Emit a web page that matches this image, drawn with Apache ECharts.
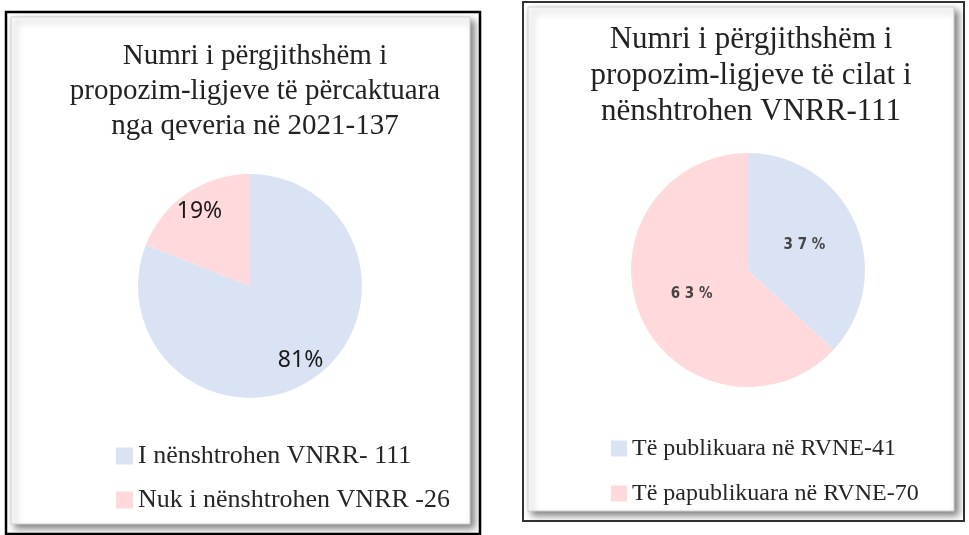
<!DOCTYPE html>
<html>
<head>
<meta charset="utf-8">
<script src="https://cdn.jsdelivr.net/npm/echarts@6/dist/echarts.min.js"></script>
<style>
html,body{margin:0;padding:0;background:#fff;}
#c{width:969px;height:535px;}
</style>
</head>
<body>
<div id="c"></div>
<script>
// ---- data ----
const leftTitle = 'Numri i përgjithshëm i\npropozim-ligjeve të përcaktuara\nnga qeveria në 2021-137';
const leftCategories = ['I nënshtrohen VNRR- 111', 'Nuk i nënshtrohen VNRR -26'];
const leftValues = [111, 26];

const rightTitle = 'Numri i përgjithshëm i\npropozim-ligjeve të cilat i\nnënshtrohen VNRR-111';
const rightCategories = ['Të publikuara në RVNE-41', 'Të papublikuara në RVNE-70'];
const rightValues = [41, 70];

const sliceColors = ['#DAE3F3', '#FFD9DC'];

// ---- chart ----
const chart = echarts.init(document.getElementById('c'), null, {renderer: 'canvas'});
const serif = '"Liberation Serif", "Times New Roman", serif';

function panel(x, y, w, h, outerColor, outerWidth) {
  return [
    {type: 'rect', z: -10, shape: {x: x, y: y, width: w, height: h},
     style: {fill: '#fff', stroke: outerColor, lineWidth: outerWidth}},
    {type: 'rect', z: -9, shape: {x: x + 5, y: y + 5, width: w - 15, height: h - 15},
     style: {fill: '#fff', stroke: '#d0d0d0', lineWidth: 1,
             shadowBlur: 7, shadowOffsetX: 4, shadowOffsetY: 4, shadowColor: 'rgba(0,0,0,0.5)'}}
  ];
}

const leftData = leftCategories.map((n, i) => ({name: n, value: leftValues[i], itemStyle: {color: sliceColors[i]}}));
const leftGhost = leftCategories.map((n, i) => ({name: '_' + n, value: leftValues[i]}));
const rightData = rightCategories.map((n, i) => ({name: n, value: rightValues[i], itemStyle: {color: sliceColors[i]}}));

chart.setOption({
  animation: false,
  backgroundColor: '#fff',
  graphic: [].concat(panel(6, 12, 474, 522, '#000', 2.5), panel(523, 2, 441, 519, '#333', 2)),
  title: [
    {text: leftTitle, left: 250, top: 34, textAlign: 'center',
     textStyle: {fontFamily: serif, fontSize: 29, fontWeight: 'normal', color: '#222', lineHeight: 35}},
    {text: rightTitle, left: 746, top: 17, textAlign: 'center',
     textStyle: {fontFamily: serif, fontSize: 31, fontWeight: 'normal', color: '#222', lineHeight: 36}}
  ],
  legend: [
    {data: leftCategories, orient: 'vertical', left: 111, top: 436, icon: 'rect',
     itemWidth: 17, itemHeight: 17, itemGap: 14,
     textStyle: {fontFamily: serif, fontSize: 26, color: '#262626', lineHeight: 30}},
    {data: rightCategories, orient: 'vertical', left: 606, top: 429, icon: 'rect',
     itemWidth: 16, itemHeight: 16, itemGap: 16,
     textStyle: {fontFamily: serif, fontSize: 24, color: '#262626', lineHeight: 29}}
  ],
  series: [
    {type: 'pie', center: [250, 286], radius: [0, 112], startAngle: 90, clockwise: true,
     silent: true, percentPrecision: 0, data: leftData, label: {show: false}, labelLine: {show: false}},
    {type: 'pie', center: [250, 286], radius: [62, 112], startAngle: 90, clockwise: true,
     silent: true, percentPrecision: 0, data: leftGhost,
     itemStyle: {color: 'rgba(0,0,0,0)'},
     label: {show: true, position: 'inside', formatter: '{d}%',
             fontFamily: '"Noto Sans", "Open Sans", sans-serif', fontSize: 23, color: '#1a1a1a'},
     labelLine: {show: false}},
    {type: 'pie', center: [748, 270], radius: [0, 117], startAngle: 90, clockwise: true,
     silent: true, percentPrecision: 0, data: rightData,
     label: {show: true, position: 'inside',
             formatter: p => String(Math.round(p.percent)).split('').join(' ') + ' %',
             fontFamily: '"DejaVu Sans Condensed", "Liberation Sans Narrow", sans-serif',
             fontSize: 15, fontWeight: 'bold', color: '#454545'},
     labelLine: {show: false}}
  ]
});
</script>
</body>
</html>
